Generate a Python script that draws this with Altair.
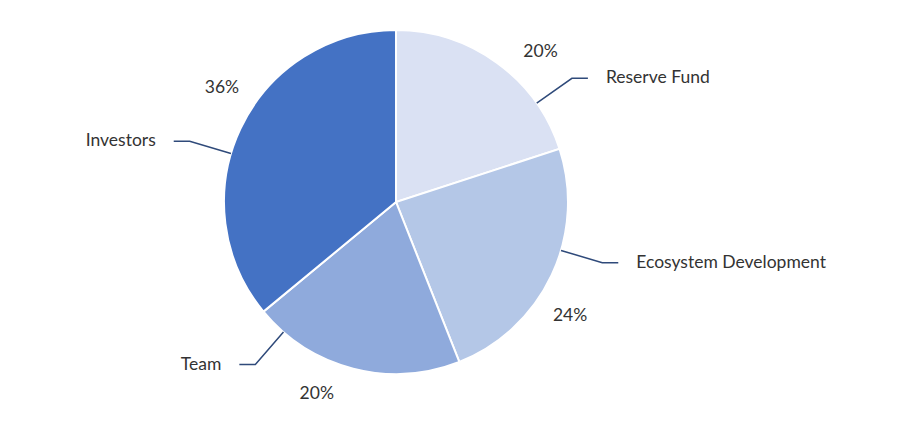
import math
import altair as alt
import pandas as pd

categories = ["Reserve Fund", "Ecosystem Development", "Team", "Investors"]
shares = [20, 24, 20, 36]
colors = ["#DAE1F3", "#B4C7E7", "#8FAADC", "#4472C4"]

W, H = 890, 408
CX, CY = 388, 194
R = 172
FONT = "Lato"
FS = 17.5
TXT = "#333333"
LINE = "#2F4A7A"

total = sum(shares)
df = pd.DataFrame({
    "cat": categories,
    "share": shares,
    "ord": list(range(len(categories))),
})

# label geometry derived from slice mid-angles
line_rows, name_rows, pct_rows = [], [], []
acc = 0
for c, s in zip(categories, shares):
    a0 = acc / total * 360
    acc += s
    a1 = acc / total * 360
    mid = (a0 + a1) / 2
    target = 90 if mid < 180 else 270
    ang = math.radians(mid + 0.35 * (target - mid))
    sx, sy = CX + R * math.sin(ang), CY - R * math.cos(ang)
    ex, ey = CX + 215 * math.sin(ang), CY - 215 * math.cos(ang)
    side = 1 if mid < 180 else -1
    hx = ex + side * 16
    for i, (px, py) in enumerate([(sx, sy), (ex, ey), (hx, ey)]):
        line_rows.append({"cat": c, "i": i, "px": px, "py": py})
    name_rows.append({"cat": c, "px": hx + side * 18, "py": ey,
                      "side": "right" if side > 0 else "left"})
    pa = math.radians(mid + 8)
    pct_rows.append({"pct": f"{round(s / total * 100)}%",
                     "px": CX + 208 * math.sin(pa), "py": CY - 208 * math.cos(pa)})

lines = pd.DataFrame(line_rows)
names = pd.DataFrame(name_rows)
pcts = pd.DataFrame(pct_rows)

xs = alt.Scale(domain=[0, W], range=[0, W])
ys = alt.Scale(domain=[0, H], range=[0, H])

pie = alt.Chart(df).mark_arc(outerRadius=R, stroke="white", strokeWidth=2).encode(
    theta=alt.Theta("share:Q", stack=True),
    order=alt.Order("ord:Q"),
    x=alt.value(CX), y=alt.value(CY),
    color=alt.Color("cat:N", scale=alt.Scale(domain=categories, range=colors), legend=None),
)

pct = alt.Chart(pcts).mark_text(font=FONT, fontSize=FS, color=TXT, baseline="middle").encode(
    x=alt.X("px:Q", scale=xs, axis=None),
    y=alt.Y("py:Q", scale=ys, axis=None),
    text="pct:N",
)

leader = alt.Chart(lines).mark_line(color=LINE, strokeWidth=1.5).encode(
    x=alt.X("px:Q", scale=xs, axis=None),
    y=alt.Y("py:Q", scale=ys, axis=None),
    detail="cat:N",
    order="i:Q",
)

name_r = alt.Chart(names).transform_filter("datum.side == 'right'").mark_text(
    font=FONT, fontSize=FS, color=TXT, align="left", baseline="middle"
).encode(x=alt.X("px:Q", scale=xs, axis=None), y=alt.Y("py:Q", scale=ys, axis=None), text="cat:N")

name_l = alt.Chart(names).transform_filter("datum.side == 'left'").mark_text(
    font=FONT, fontSize=FS, color=TXT, align="right", baseline="middle"
).encode(x=alt.X("px:Q", scale=xs, axis=None), y=alt.Y("py:Q", scale=ys, axis=None), text="cat:N")

chart = alt.layer(pie, pct, leader, name_r, name_l).properties(
    width=W, height=H, padding=0, background="white",
    autosize=alt.AutoSizeParams(type="none"),
).configure_view(stroke=None)

chart.save("out.html", embed_options={"renderer": "svg", "actions": False})
